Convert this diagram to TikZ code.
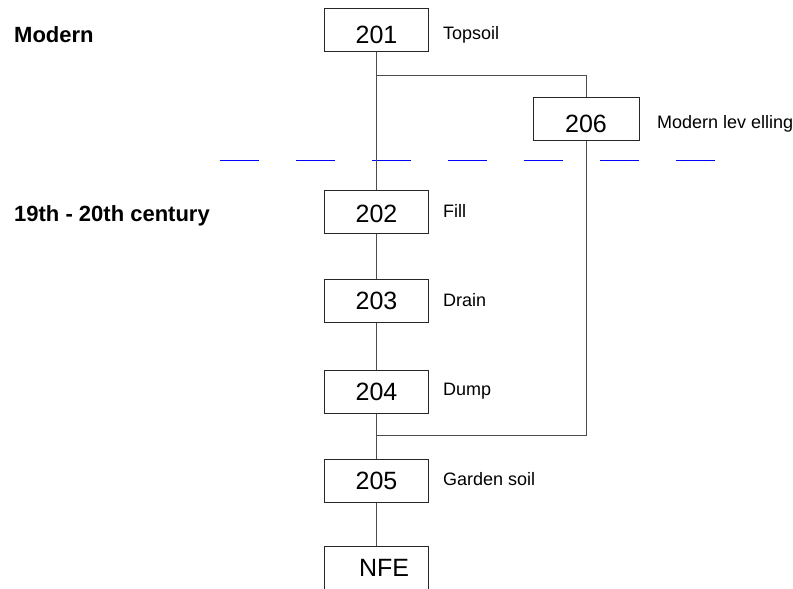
\documentclass[tikz,border=0pt]{standalone}
\usepackage{fontspec}
\setmainfont{Liberation Sans}
\begin{document}
\begin{tikzpicture}[x=1pt,y=-1pt,
  box/.style={draw=black!85, line width=1pt, minimum width=104pt, minimum height=43pt, inner sep=0pt, font=\fontsize{25}{28}\selectfont, text height=17pt, text depth=0pt},
  lbl/.style={anchor=base west, font=\fontsize{18}{20}\selectfont, inner sep=0pt},
  head/.style={anchor=base west, font=\fontsize{22}{24}\selectfont\bfseries, inner sep=0pt},
  conn/.style={draw=black!70, line width=1pt},
  era/.style={draw=blue, line width=1pt, dash pattern=on 39pt off 37pt}]
\useasboundingbox (0,0) rectangle (793,589);
\clip (0,0) rectangle (793,589);
% period boundary
\draw[era] (220,160) -- (715,160);
% boxes
\node[box, text height=27pt] (b201) at (376.5,29.5) {201};
\node[box, text height=22pt] (b202) at (376.5,211.5) {202};
\node[box] (b203) at (376.5,300.5) {203};
\node[box] (b204) at (376.5,391.5) {204};
\node[box] (b205) at (376.5,480.5) {205};
\node[box] (nfe) at (376.5,567.5) {\hspace*{15pt}NFE};
\node[box, minimum width=106pt, text height=27pt] (b206) at (586,118.5) {206};
% labels
\node[lbl] (l201) at (443,39) {Topsoil};
\node[lbl] (l202) at (443,217.7) {Fill};
\node[lbl] (l203) at (443,306.7) {Drain};
\node[lbl] (l204) at (443,395.7) {Dump};
\node[lbl] (l205) at (443,485) {Garden soil};
\node[lbl] (l206) at (657,128) {Modern lev elling};
\node[head] (h1) at (14,42.7) {Modern};
\node[head] (h2) at (14,221) {19th - 20th century};
% connectors
\coordinate (j1) at (376.5,75);
\coordinate (j2) at (376.5,435);
\draw[conn] (b201) -- (b202);
\draw[conn] (b202) -- (b203);
\draw[conn] (b203) -- (b204);
\draw[conn] (b204) -- (b205);
\draw[conn] (b205) -- (nfe);
\draw[conn] (j1) -| (b206.north);
\draw[conn] (b206.south) |- (j2);
\end{tikzpicture}
\end{document}
